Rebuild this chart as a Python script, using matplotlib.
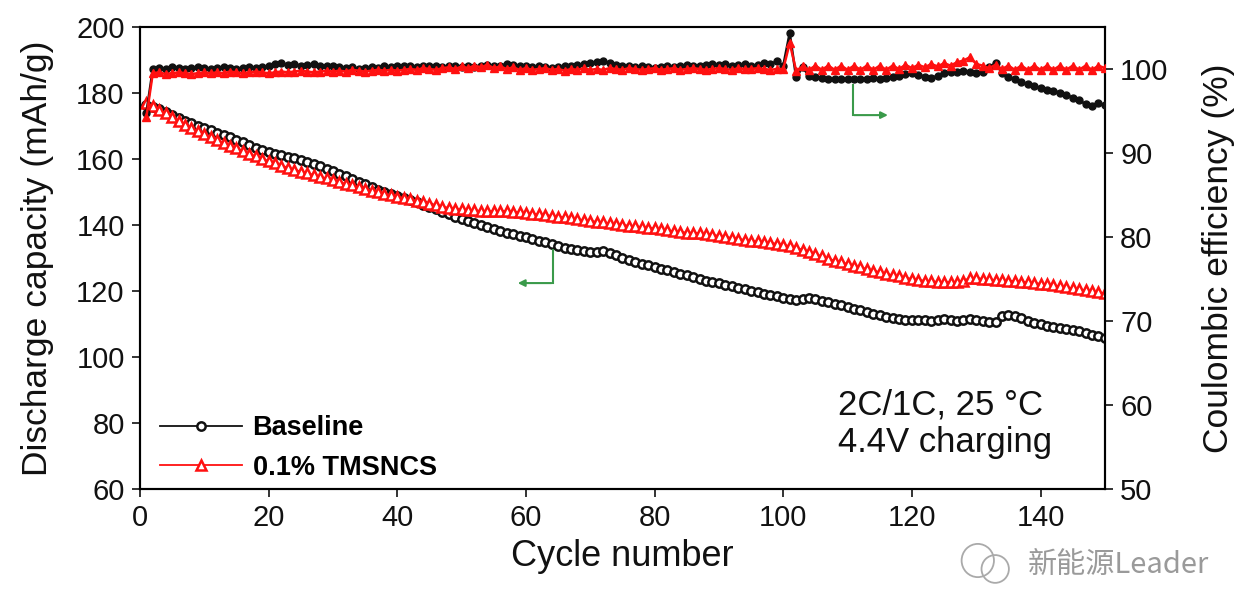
import matplotlib
matplotlib.use("Agg")
import matplotlib.pyplot as plt
import numpy as np
from matplotlib.patches import Ellipse

# ---- data ----
cycles = np.arange(1, 151)

base_cap = [
    176.5, 175.9, 175.0, 174.1, 173.2, 172.4, 171.6, 170.8, 170.1, 169.4,
    168.7, 168.0, 167.3, 166.6, 165.8, 165.0, 164.2, 163.4, 162.7, 162.0,
    161.5, 161.1, 160.7, 160.3, 159.8, 159.2, 158.5, 157.8, 157.0, 156.3,
    155.5, 154.7, 153.9, 153.1, 152.3, 151.5, 150.7, 150.0, 149.3, 148.7,
    148.1, 147.5, 146.9, 146.2, 145.5, 144.8, 144.0, 143.2, 142.5, 141.8,
    141.1, 140.5, 140.0, 139.4, 138.8, 138.2, 137.7, 137.2, 136.7, 136.3,
    135.8, 135.3, 134.8, 134.2, 133.6, 133.1, 132.7, 132.3, 132.0, 131.9,
    131.9, 132.0, 131.6, 130.9, 130.1, 129.4, 128.8, 128.3, 127.8, 127.3,
    126.8, 126.3, 125.8, 125.3, 124.8, 124.2, 123.6, 123.1, 122.7, 122.3,
    121.9, 121.5, 121.0, 120.5, 120.1, 119.6, 119.2, 118.8, 118.4, 117.9,
    117.6, 117.4, 117.6, 117.8, 117.5, 117.1, 116.6, 116.1, 115.7, 115.2,
    114.6, 114.1, 113.6, 113.1, 112.6, 112.1, 111.7, 111.4, 111.3, 111.2,
    111.1, 111.3, 111.0, 111.2, 111.5, 111.3, 111.0, 111.2, 111.4, 111.1,
    110.8, 110.6, 110.5, 112.5, 112.7, 112.3, 111.7, 111.0, 110.4, 110.0,
    109.5, 109.1, 108.8, 108.5, 108.2, 107.8, 107.3, 106.8, 106.3, 105.9,
]

tms_cap = [
    177.0, 176.0, 174.9, 173.8, 172.6, 171.5, 170.4, 169.4, 168.4, 167.5,
    166.6, 165.7, 164.8, 164.0, 163.2, 162.4, 161.6, 160.8, 160.1, 159.4,
    158.7, 158.0, 157.4, 156.8, 156.2, 155.7, 155.2, 154.6, 154.1, 153.6,
    153.0, 152.5, 152.0, 151.4, 150.9, 150.4, 149.9, 149.4, 149.0, 148.6,
    148.2, 147.8, 147.4, 147.0, 146.5, 146.0, 145.6, 145.2, 144.9, 144.7,
    144.5, 144.4, 144.3, 144.2, 144.2, 144.3, 144.2, 144.0, 143.8, 143.6,
    143.4, 143.2, 143.0, 142.8, 142.5, 142.3, 142.0, 141.7, 141.5, 141.2,
    141.0, 140.8, 140.5, 140.2, 140.0, 139.8, 139.6, 139.4, 139.2, 139.0,
    138.7, 138.4, 138.1, 137.9, 137.7, 137.6, 137.5, 137.3, 137.0, 136.7,
    136.4, 136.1, 135.8, 135.5, 135.2, 135.0, 134.8, 134.6, 134.3, 134.0,
    133.6, 133.1, 132.5, 131.9, 131.2, 130.5, 129.8, 129.2, 128.7, 128.2,
    127.7, 127.2, 126.7, 126.2, 125.7, 125.2, 124.8, 124.4, 124.0, 123.7,
    123.4, 123.1, 122.9, 122.8, 122.7, 122.7, 122.8, 123.0, 124.0, 123.9,
    123.7, 123.5, 123.3, 123.2, 123.1, 123.0, 122.8, 122.6, 122.4, 122.2,
    122.0, 121.7, 121.4, 121.1, 120.8, 120.5, 120.2, 119.9, 119.6, 119.3,
]

base_ce = [
    94.8, 100.0, 100.1, 100.0, 100.2, 100.1, 100.0, 100.1, 100.2, 100.1,
    100.0, 100.1, 100.2, 100.1, 100.0, 100.1, 100.2, 100.1, 100.2, 100.3,
    100.6, 100.7, 100.5, 100.6, 100.4, 100.5, 100.6, 100.4, 100.3, 100.4,
    100.2, 100.1, 100.2, 100.0, 100.1, 100.2, 100.1, 100.3, 100.2, 100.3,
    100.4, 100.3, 100.2, 100.3, 100.4, 100.3, 100.2, 100.4, 100.3, 100.2,
    100.3, 100.2, 100.4, 100.5, 100.3, 100.4, 100.6, 100.5, 100.4, 100.3,
    100.2, 100.3, 100.2, 100.1, 100.2, 100.3, 100.4, 100.5, 100.6, 100.7,
    100.8, 101.0, 100.7, 100.5, 100.4, 100.3, 100.2, 100.3, 100.2, 100.1,
    100.2, 100.3, 100.2, 100.4, 100.5, 100.4, 100.3, 100.5, 100.6, 100.5,
    100.6, 100.4, 100.5, 100.6, 100.4, 100.5, 100.7, 100.6, 100.9, 100.4,
    104.3, 99.0, 100.2, 99.2, 99.0, 98.9, 98.8, 98.8, 98.8, 98.8,
    98.8, 98.8, 98.8, 98.9, 98.8, 98.9, 99.0, 99.2, 99.4, 99.5,
    99.3, 99.1, 98.9, 99.2, 99.5, 99.6, 99.7, 99.8, 99.6, 99.5,
    99.7, 100.2, 100.7, 99.5, 99.0, 98.8, 98.4, 98.2, 98.0, 97.7,
    97.5, 97.4, 97.2, 96.9, 96.6, 96.3, 95.8, 95.6, 95.9, 95.7,
]

tms_ce = [
    94.3, 99.5, 99.6, 99.4, 99.5, 99.6, 99.5, 99.4, 99.5, 99.6,
    99.5, 99.6, 99.5, 99.7, 99.6, 99.5, 99.6, 99.7, 99.6, 99.5,
    99.6, 99.7, 99.6, 99.7, 99.8, 99.7, 99.6, 99.7, 99.8, 99.7,
    99.8, 99.7, 99.9, 99.8, 99.7, 99.8, 99.9, 99.8, 99.9, 99.8,
    99.9, 100.0, 99.9, 100.1, 100.0, 99.9, 100.1, 100.2, 100.0, 100.3,
    100.1, 100.4, 100.2, 100.5, 100.1, 100.3, 100.0, 100.2, 99.9, 100.1,
    99.9, 100.0, 100.1, 99.9, 100.0, 99.8, 100.0, 99.9, 100.1, 99.9,
    100.0, 99.9, 100.1, 100.0, 99.9, 100.1, 100.0, 99.9, 100.0, 100.1,
    99.9, 100.0, 100.1, 99.9, 100.0, 100.1, 100.0, 99.9, 100.0, 100.1,
    100.0, 99.9, 100.1, 100.0, 100.0, 100.1, 100.0, 99.9, 100.0, 100.0,
    103.1, 99.8, 100.3, 99.9, 100.4, 99.9, 100.4, 99.9, 100.4, 99.9,
    100.4, 99.9, 100.4, 99.9, 100.4, 99.9, 100.4, 100.0, 100.5, 100.1,
    100.5, 100.2, 100.6, 100.3, 100.7, 100.4, 100.8, 101.0, 101.4, 100.6,
    100.4, 100.1, 100.5, 100.0, 100.4, 99.9, 100.4, 99.9, 100.4, 99.9,
    100.4, 99.9, 100.4, 99.9, 100.4, 99.9, 100.4, 99.9, 100.4, 100.1,
]

labels = ["Baseline", "0.1% TMSNCS"]
x_ticks = [0, 20, 40, 60, 80, 100, 120, 140]
left_ticks = [60, 80, 100, 120, 140, 160, 180, 200]
right_ticks = [50, 60, 70, 80, 90, 100]

# ---- style ----
plt.rcParams['font.family'] = ['Liberation Sans', 'DejaVu Sans']
BLACK = '#111111'
RED = '#ff1010'
GREEN = '#3a9a4a'

fig = plt.figure(figsize=(12.44, 6.04), dpi=100)
ax = fig.add_axes([0.1125, 0.1904, 0.7757, 0.7649])
ax2 = ax.twinx()

ax.plot(cycles, base_cap, color=BLACK, lw=1.3, marker='o', ms=6,
        mfc='white', mec=BLACK, mew=1.8, label=labels[0], zorder=3)
ax.plot(cycles, tms_cap, color=RED, lw=1.3, marker='^', ms=6.5,
        mfc='white', mec=RED, mew=1.8, label=labels[1], zorder=4)

ax2.plot(cycles, base_ce, color=BLACK, lw=1.8, marker='o', ms=5,
         mfc=BLACK, mec=BLACK, zorder=3)
ax2.plot(cycles, tms_ce, color=RED, lw=1.8, marker='^', ms=5.5,
         mfc=RED, mec=RED, zorder=4)

ax.set_xlim(0, 150)
ax.set_ylim(60, 200)
ax2.set_ylim(50, 105)
ax.set_xticks(x_ticks)
ax.set_yticks(left_ticks)
ax2.set_yticks(right_ticks)

for a in (ax, ax2):
    a.tick_params(direction='out', length=6, width=1.2, labelsize=21, pad=5,
                  colors='#111111')
    for s in a.spines.values():
        s.set_linewidth(1.5)
ax.spines['top'].set_color('#666666')

ax.set_xlabel('Cycle number', fontsize=26, labelpad=5, color='#111111')
ax.set_ylabel('Discharge capacity (mAh/g)', fontsize=25.5, labelpad=16,
              color='#111111')
ax2.set_ylabel('Coulombic efficiency (%)', fontsize=25.5, labelpad=24,
               color='#111111')

leg = ax.legend(loc='lower left', bbox_to_anchor=(-0.004, -0.035), frameon=False,
                handlelength=3.0, handletextpad=0.4, labelspacing=0.5,
                prop={'weight': 'bold', 'size': 19.5})

ax.text(0.723, 0.182, '2C/1C, 25 °C', transform=ax.transAxes,
        fontsize=25, va='center', ha='left', color='#111111')
ax.text(0.723, 0.100, '4.4V charging', transform=ax.transAxes,
        fontsize=25, va='center', ha='left', color='#111111')

# green guide arrows
ax.plot([64.2, 64.2], [132.4, 122.4], color=GREEN, lw=1.5, zorder=5)
ax.annotate('', xy=(58.3, 122.4), xytext=(64.4, 122.4),
            arrowprops=dict(arrowstyle='-|>', color=GREEN, lw=1.5,
                            mutation_scale=10), zorder=5)
ax.plot([110.8, 110.8], [182.4, 173.3], color=GREEN, lw=1.5, zorder=5)
ax.annotate('', xy=(116.7, 173.3), xytext=(110.6, 173.3),
            arrowprops=dict(arrowstyle='-|>', color=GREEN, lw=1.5,
                            mutation_scale=10), zorder=5)

# watermark
fig.patches.append(Ellipse((0.786, 0.072), 0.026, 0.055, transform=fig.transFigure,
                           fill=False, ec='#aaaaaa', lw=1.3))
fig.patches.append(Ellipse((0.8, 0.058), 0.022, 0.046, transform=fig.transFigure,
                           fill=False, ec='#aaaaaa', lw=1.3))
fig.text(0.826, 0.064, '新能源Leader', fontsize=21, color='#9a9a9a',
         family=['Noto Sans CJK SC', 'DejaVu Sans'], va='center', ha='left')

fig.savefig('out.png', dpi=100, facecolor='white')
